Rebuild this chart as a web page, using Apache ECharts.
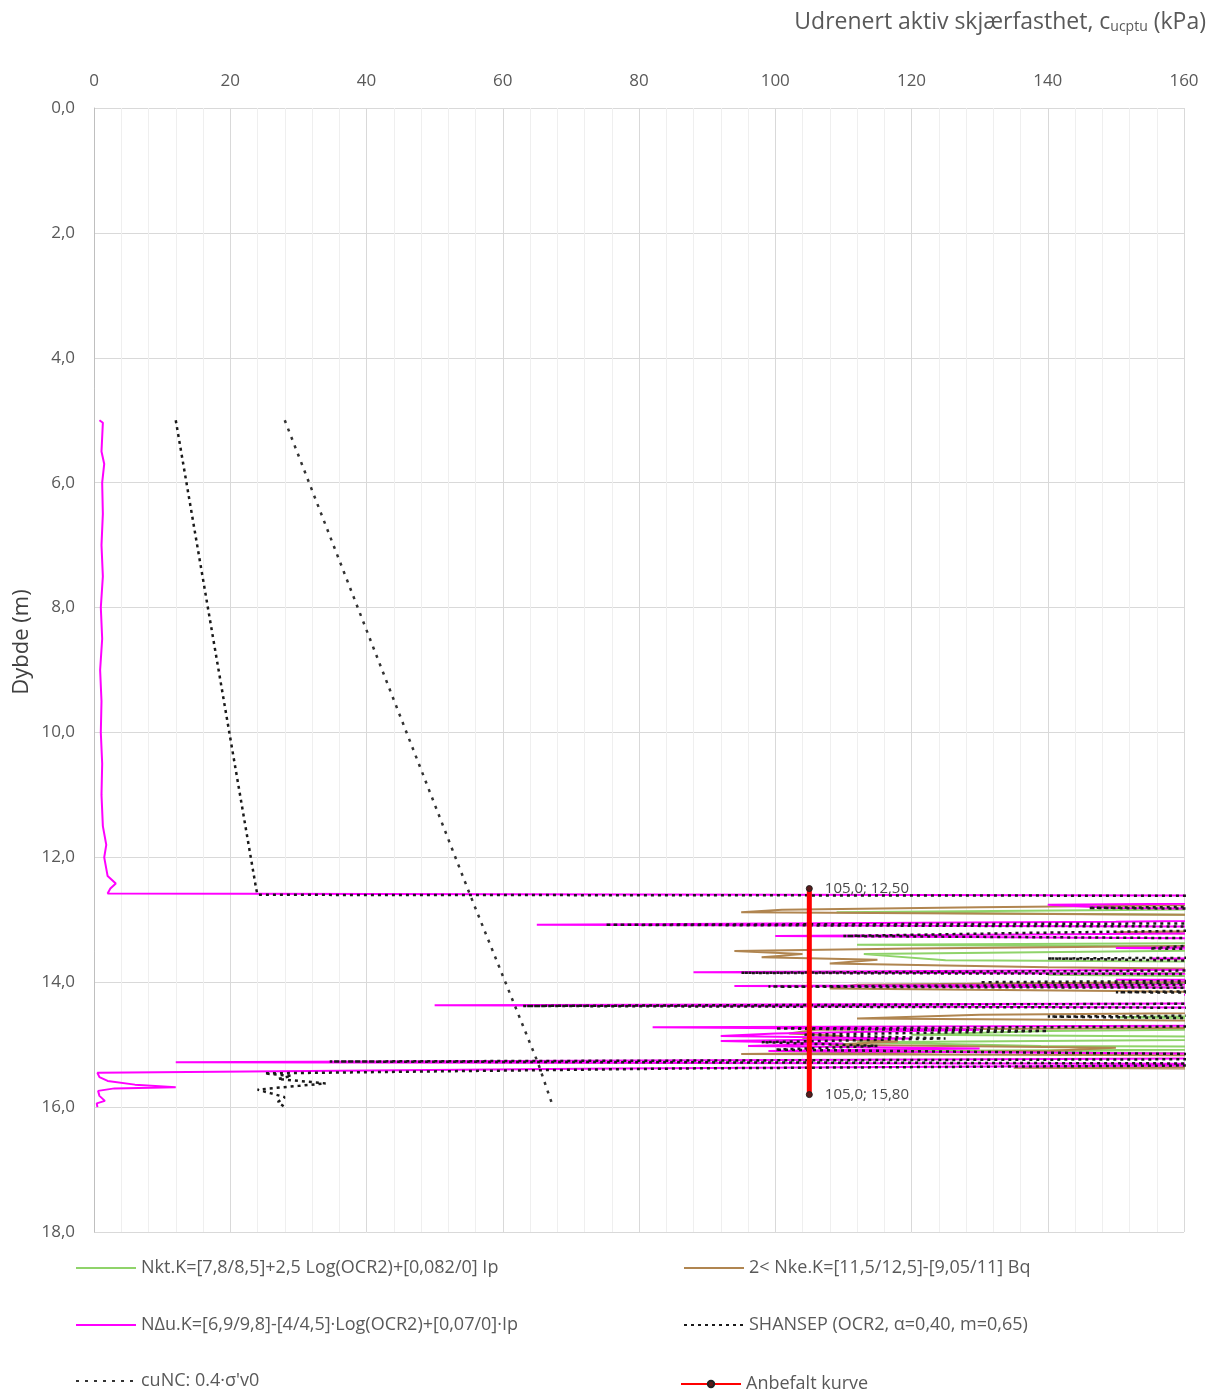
<!DOCTYPE html>
<html>
<head>
<meta charset="utf-8">
<script src="https://cdn.jsdelivr.net/npm/echarts@6/dist/echarts.min.js"></script>
<style>
html,body{margin:0;padding:0;background:#fff;}
#c{width:1221px;height:1390px;}
</style>
</head>
<body>
<div id="c"></div>
<script>
// ---------- tick labels ----------
const xTicks = [0, 20, 40, 60, 80, 100, 120, 140, 160];
const yTicks = [0, 2, 4, 6, 8, 10, 12, 14, 16, 18];

// ---------- series names ----------
const nameNkt = "Nkt.K=[7,8/8,5]+2,5 Log(OCR2)+[0,082/0] Ip";
const nameNke = "2< Nke.K=[11,5/12,5]-[9,05/11] Bq";
const nameNdu = "N\u0394u.K=[6,9/9,8]-[4/4,5]\u00b7Log(OCR2)+[0,07/0]\u00b7Ip";
const nameShansep = "SHANSEP (OCR2, \u03b1=0,40, m=0,65)";
const nameCuNC = "cuNC: 0.4\u00b7\u03c3'v0";
const nameAnbefalt = "Anbefalt kurve";

// ---------- NΔu (magenta) ----------
const nduDepth = [5.00,5.04,5.50,5.70,6.00,6.50,7.00,7.50,8.00,8.50,9.00,9.50,10.00,10.50,11.00,11.50,11.80,12.00,12.30,12.42,12.50,12.58,
  12.60,12.62,12.70,12.76,12.81,12.85,12.92,12.97,13.03,13.08,13.12,13.18,13.22,13.26,13.32,13.38,13.42,13.45,13.50,13.56,13.62,13.70,13.78,13.84,13.88,13.92,13.96,14.02,14.06,14.10,14.16,14.20,14.26,14.32,14.37,14.42,14.48,14.55,14.62,14.68,14.72,14.76,14.82,14.86,14.90,14.94,14.98,15.02,15.06,15.10,15.14,15.17,15.20,
  15.28,15.31,15.38,15.45,15.52,15.58,15.64,15.68,15.70,15.74,15.82,15.90,15.94,16.00];
const nduCu = [0.8,1.3,1.1,1.5,1.2,1.3,1.1,1.3,1.0,1.2,0.9,1.1,1.0,1.2,1.1,1.3,1.8,1.5,2.0,3.2,2.4,2.0,
  2.2,200,220,140,150,200,230,200,150,65,200,230,160,100,200,220,200,150,200,230,155,210,200,88,200,230,150,200,94,200,220,160,200,230,50,200,220,170,200,230,82,130,100,92,120,92,110,96,130,99,160,200,210,
  12,200,76,0.5,0.8,2,6,12,3,0.6,0.8,1.6,0.4,0.5];

// ---------- SHANSEP (black dashed) ----------
const shDepth = [5.0,8.5,12.5,12.6,12.62,12.72,12.78,12.81,12.85,12.95,13.05,13.08,13.12,13.21,13.26,13.32,13.38,13.42,13.46,13.50,13.58,13.62,13.72,13.78,13.85,13.88,13.94,14.00,14.02,14.07,14.10,14.16,14.20,14.26,14.32,14.38,14.42,14.50,14.55,14.62,14.68,14.74,14.78,14.84,14.90,14.96,15.02,15.08,15.14,15.18,15.22,
  15.27,15.31,15.38,15.46,15.50,15.55,15.62,15.66,15.72,15.78,15.84,15.92,16.00];
const shCu = [12.0,17.5,23.8,24.0,200,220,175,146,200,220,200,75,200,137,110,200,230,160,155,200,220,140,200,220,95,200,220,130,200,99,200,150,220,200,230,63,200,220,140,200,220,100,140,104,125,98,115,100,150,200,210,
  34.6,200,87.5,25,29,27,34,30,24,26,28,27,28];

// ---------- cuNC (0.4·σ'v0) ----------
const cuncDepth = [5.0, 8.5, 12.6, 15.3, 16.0];
const cuncCu = [28.0, 40.5, 55.2, 65.2, 67.4];

// ---------- Nkt (green) ----------
const nktDepth = [12.62,12.70,12.80,12.88,12.92,12.98,13.05,13.15,13.25,13.35,13.40,13.45,13.55,13.65,13.70,13.78,13.88,13.96,14.05,14.12,14.20,14.30,14.40,14.48,14.56,14.64,14.72,14.78,14.84,14.90,14.96,15.02,15.06,15.10,15.16,15.22,15.30,15.36];
const nktCu = [200,220,200,109,160,220,200,220,200,220,112,200,113,125,220,200,140,220,118,200,220,200,220,200,150,220,200,140,120,200,112,139,220,115,200,220,200,220];

// ---------- Nke (brown) ----------
const nkeDepth = [12.62,12.68,12.72,12.80,12.84,12.88,12.92,13.00,13.06,13.12,13.20,13.30,13.40,13.46,13.50,13.55,13.60,13.64,13.70,13.76,13.82,13.90,13.98,14.04,14.10,14.14,14.20,14.30,14.40,14.45,14.52,14.58,14.64,14.70,14.76,14.82,14.86,14.90,14.95,15.00,15.05,15.10,15.15,15.18,15.22,15.30,15.34,15.37,15.40];
const nkeCu = [200,220,200,130,101,95,160,200,220,200,150,200,180,120,94,104,98,115,108,140,200,220,180,112,108,150,200,220,200,220,130,112,200,220,106,102,110,104,118,108,150,140,95,200,200,200,220,135,200];

// ---------- Anbefalt kurve ----------
const anbDepth = [12.5, 15.8];
const anbCu = [105.0, 105.0];

function pairs(xs, ds) { return xs.map((v, i) => [v, ds[i]]); }
const fmtComma = (v, d) => v.toFixed(d).replace('.', ',');

const FONT = 'Open Sans';
const GREY = '#595959';
const LEG_FS = 18;

function legendAt(name, left, top, extra) {
  return Object.assign({
    orient: 'horizontal', left: left, top: top, itemWidth: 60, itemHeight: 14, padding: 0,
    textStyle: {color: GREY, fontSize: LEG_FS, fontFamily: FONT},
    data: [{name: name, itemStyle: {opacity: 0}}]
  }, extra || {});
}

const chart = echarts.init(document.getElementById('c'), null, {renderer: 'canvas'});
chart.setOption({
  animation: false,
  backgroundColor: '#ffffff',
  textStyle: {fontFamily: FONT},
  title: {
    text: '{a|Udrenert aktiv skjærfasthet, c}{s|ucptu}{a| (kPa)}',
    right: 10, top: 6,
    textStyle: {
      fontWeight: 'normal',
      rich: {
        a: {fontFamily: FONT, fontSize: 23, color: GREY, fontWeight: 'normal'},
        s: {fontFamily: FONT, fontSize: 14, color: GREY, fontWeight: 'normal', verticalAlign: 'bottom', padding: [9, 0, 0, 0]}
      }
    }
  },
  graphic: [{
    type: 'text', x: 22, y: 642, rotation: Math.PI / 2,
    style: {text: 'Dybde (m)', fill: '#404040', font: '22px "Open Sans"', textAlign: 'center', textVerticalAlign: 'middle'}
  }],
  grid: {left: 94, right: 37, top: 108, bottom: 158, containLabel: false},
  xAxis: {
    type: 'value', position: 'top', min: xTicks[0], max: xTicks[xTicks.length - 1], interval: 20,
    axisLine: {show: false},
    axisTick: {show: false},
    axisLabel: {color: GREY, fontSize: 17, margin: 18, fontFamily: FONT},
    splitLine: {show: true, lineStyle: {color: '#d9d9d9', width: 1}},
    minorTick: {show: false, splitNumber: 5},
    minorSplitLine: {show: true, lineStyle: {color: '#efefef', width: 1}}
  },
  yAxis: {
    type: 'value', inverse: true, min: yTicks[0], max: yTicks[yTicks.length - 1], interval: 2,
    axisLine: {show: true, lineStyle: {color: '#bfbfbf'}},
    axisTick: {show: false},
    axisLabel: {color: GREY, fontSize: 17, margin: 19, fontFamily: FONT, formatter: v => fmtComma(v, 1)},
    splitLine: {show: true, lineStyle: {color: '#d9d9d9', width: 1}}
  },
  legend: [
    legendAt(nameNkt, 75, 1259),
    legendAt(nameNdu, 75, 1316),
    legendAt(nameCuNC, 75, 1372),
    legendAt(nameNke, 683, 1259),
    legendAt(nameShansep, 683, 1316),
    {
      orient: 'horizontal', left: 680, top: 1375, itemWidth: 60, itemHeight: 8, padding: 0,
      textStyle: {color: GREY, fontSize: LEG_FS, fontFamily: FONT},
      data: [nameAnbefalt]
    }
  ],
  series: [
    {
      name: nameNkt, type: 'line', symbol: 'none', clip: true,
      lineStyle: {color: '#8fd36a', width: 2}, itemStyle: {color: '#8fd36a'},
      data: pairs(nktCu, nktDepth), z: 2
    },
    {
      name: nameNke, type: 'line', symbol: 'none', clip: true,
      lineStyle: {color: '#b08550', width: 2}, itemStyle: {color: '#d2b48c'},
      data: pairs(nkeCu, nkeDepth), z: 3
    },
    {
      name: nameNdu, type: 'line', symbol: 'none', clip: true,
      lineStyle: {color: '#ff00ff', width: 2}, itemStyle: {color: '#ff00ff'},
      data: pairs(nduCu, nduDepth), z: 4
    },
    {
      name: nameShansep, type: 'line', symbol: 'none', clip: true,
      lineStyle: {color: '#1a1a1a', width: 2.5, type: [3, 4]}, itemStyle: {color: '#1a1a1a'},
      data: pairs(shCu, shDepth), z: 5
    },
    {
      name: nameCuNC, type: 'line', symbol: 'none', clip: true,
      lineStyle: {color: '#333333', width: 2.5, type: [3, 6]}, itemStyle: {color: '#333333'},
      data: pairs(cuncCu, cuncDepth), z: 5
    },
    {
      name: nameAnbefalt, type: 'line', symbol: 'circle', symbolSize: 6, clip: false,
      lineStyle: {color: '#ff0000', width: 5}, itemStyle: {color: '#5a1a1a', borderColor: '#222', borderWidth: 1},
      label: {
        show: true, position: 'right', distance: 12, color: '#4a4a4a', fontSize: 15, fontFamily: FONT,
        formatter: p => fmtComma(p.value[0], 1) + '; ' + fmtComma(p.value[1], 2)
      },
      data: pairs(anbCu, anbDepth), z: 10
    }
  ]
});
</script>
</body>
</html>
